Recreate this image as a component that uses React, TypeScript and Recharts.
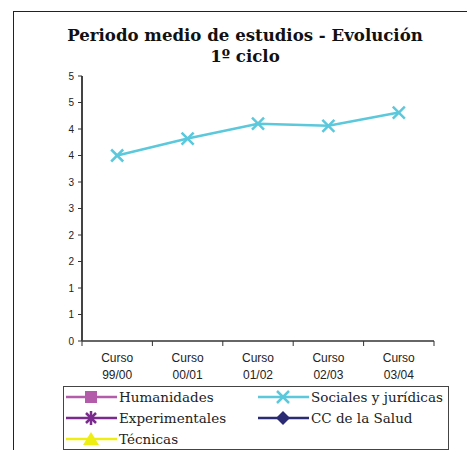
import { Line, LineChart, XAxis, YAxis } from "recharts";

const cursos = ["99/00", "00/01", "01/02", "02/03", "03/04"];
const sociales = [3.5, 3.82, 4.1, 4.06, 4.31];
const yTicks = [0, 0.5, 1, 1.5, 2, 2.5, 3, 3.5, 4, 4.5, 5];

const leyenda = [
  { name: "Humanidades", color: "#b35ca9", marker: "square" },
  { name: "Sociales y jurídicas", color: "#5bc8dc", marker: "x" },
  { name: "Experimentales", color: "#7b2b8d", marker: "star" },
  { name: "CC de la Salud", color: "#2b2b73", marker: "diamond" },
  { name: "Técnicas", color: "#eeee12", marker: "triangle" },
];

const data = cursos.map((c, i) => ({ curso: c, sociales: sociales[i] }));

function CrossDot(props: any) {
  const { cx, cy } = props;
  if (cx == null || cy == null) return null;
  const s = 6;
  return (
    <g stroke="#5bc8dc" strokeWidth={2.5}>
      <line x1={cx - s} y1={cy - s} x2={cx + s} y2={cy + s} />
      <line x1={cx - s} y1={cy + s} x2={cx + s} y2={cy - s} />
    </g>
  );
}

function CursoTick(props: any) {
  const { x, y, payload, index } = props;
  const half = payload?.offset || 35.2;
  return (
    <g>
      <line x1={x - half} y1={y} x2={x - half} y2={y + 5} stroke="#333" />
      {index === cursos.length - 1 && (
        <line x1={x + half} y1={y} x2={x + half} y2={y + 5} stroke="#333" />
      )}
      <text x={x} y={y + 21} textAnchor="middle" fontSize={12} fill="#222" fontFamily="Liberation Sans, Arial">
        Curso
      </text>
      <text x={x} y={y + 38} textAnchor="middle" fontSize={12} fill="#222" fontFamily="Liberation Sans, Arial">
        {payload.value}
      </text>
    </g>
  );
}

function Marker({ kind, color }: { kind: string; color: string }) {
  const c = 25;
  let m = null;
  if (kind === "square") m = <rect x={c - 6} y={4} width={12} height={12} fill={color} />;
  if (kind === "x")
    m = (
      <g stroke={color} strokeWidth={2.5}>
        <line x1={c - 6} y1={4} x2={c + 6} y2={16} />
        <line x1={c - 6} y1={16} x2={c + 6} y2={4} />
      </g>
    );
  if (kind === "star")
    m = (
      <g stroke={color} strokeWidth={2.5}>
        <line x1={c - 5} y1={5} x2={c + 5} y2={15} />
        <line x1={c - 5} y1={15} x2={c + 5} y2={5} />
        <line x1={c} y1={3} x2={c} y2={17} />
      </g>
    );
  if (kind === "diamond") m = <polygon points={`${c},3 ${c + 7},10 ${c},17 ${c - 7},10`} fill={color} />;
  if (kind === "triangle") m = <polygon points={`${c},3 ${c + 8},16 ${c - 8},16`} fill={color} />;
  return (
    <svg width={51} height={20} style={{ display: "block" }}>
      <line x1={0} y1={10} x2={51} y2={10} stroke={color} strokeWidth={2.5} />
      {m}
    </svg>
  );
}

export default function App() {
  return (
    <div style={{ position: "absolute", left: 0, top: 0, width: 467, height: 450, overflow: "hidden", background: "#fff" }}>
      <div style={{ position: "absolute", left: 13, top: 11, width: 470, height: 460, borderLeft: "1px solid #222", borderTop: "1px solid #222" }} />
      <div
        style={{
          position: "absolute",
          left: 0,
          width: 490,
          top: 25,
          textAlign: "center",
          fontFamily: "DejaVu Serif, serif",
          fontWeight: "bold",
          fontSize: 16.6,
          lineHeight: "21px",
          color: "#111",
        }}
      >
        Periodo medio de estudios - Evolución
        <br />
        1º ciclo
      </div>
      <div style={{ position: "absolute", left: 0, top: 0 }}>
        <LineChart width={467} height={450} data={data} margin={{ top: 76, right: 33, left: 62, bottom: 64 }}>
          <XAxis
            dataKey="curso"
            scale="band"
            height={45}
            tickSize={0}
            tickMargin={0}
            tickLine={false}
            axisLine={{ stroke: "#333", strokeWidth: 1.5 }}
            tick={<CursoTick />}
            interval={0}
          />
          <XAxis
            xAxisId="top"
            orientation="top"
            dataKey="curso"
            scale="band"
            height={0}
            tick={false}
            tickLine={false}
            axisLine={{ stroke: "#999", strokeWidth: 2 }}
          />
          <YAxis
            domain={[0, 5]}
            ticks={yTicks}
            width={20}
            interval={0}
            tickSize={4}
            tickMargin={4}
            tickFormatter={(v: number) => String(Math.round(v))}
            tick={{ fontSize: 10, fill: "#222", fontFamily: "Liberation Sans, Arial" }}
            tickLine={{ stroke: "#333" }}
            axisLine={{ stroke: "#444", strokeWidth: 2 }}
          />
          <YAxis yAxisId="right" orientation="right" domain={[0, 5]} width={0} tick={false} tickLine={false} axisLine={{ stroke: "#999", strokeWidth: 2 }} />
          <Line
            dataKey="sociales"
            stroke="#5bc8dc"
            strokeWidth={2.5}
            dot={<CrossDot />}
            activeDot={false}
            isAnimationActive={false}
          />
        </LineChart>
      </div>
      <div
        style={{
          position: "absolute",
          left: 63,
          top: 386,
          width: 384,
          height: 62,
          border: "1px solid #444",
          fontFamily: "DejaVu Serif, serif",
          fontSize: 13.5,
          color: "#222",
        }}
      >
        {leyenda.map((e, i) => (
          <div
            key={e.name}
            style={{
              position: "absolute",
              left: i % 2 === 0 ? 2 : 194,
              top: 0 + Math.floor(i / 2) * 21,
              height: 20,
              display: "flex",
              alignItems: "center",
              whiteSpace: "nowrap",
            }}
          >
            <Marker kind={e.marker} color={e.color} />
            <span style={{ marginLeft: 2 }}>{e.name}</span>
          </div>
        ))}
      </div>
    </div>
  );
}
